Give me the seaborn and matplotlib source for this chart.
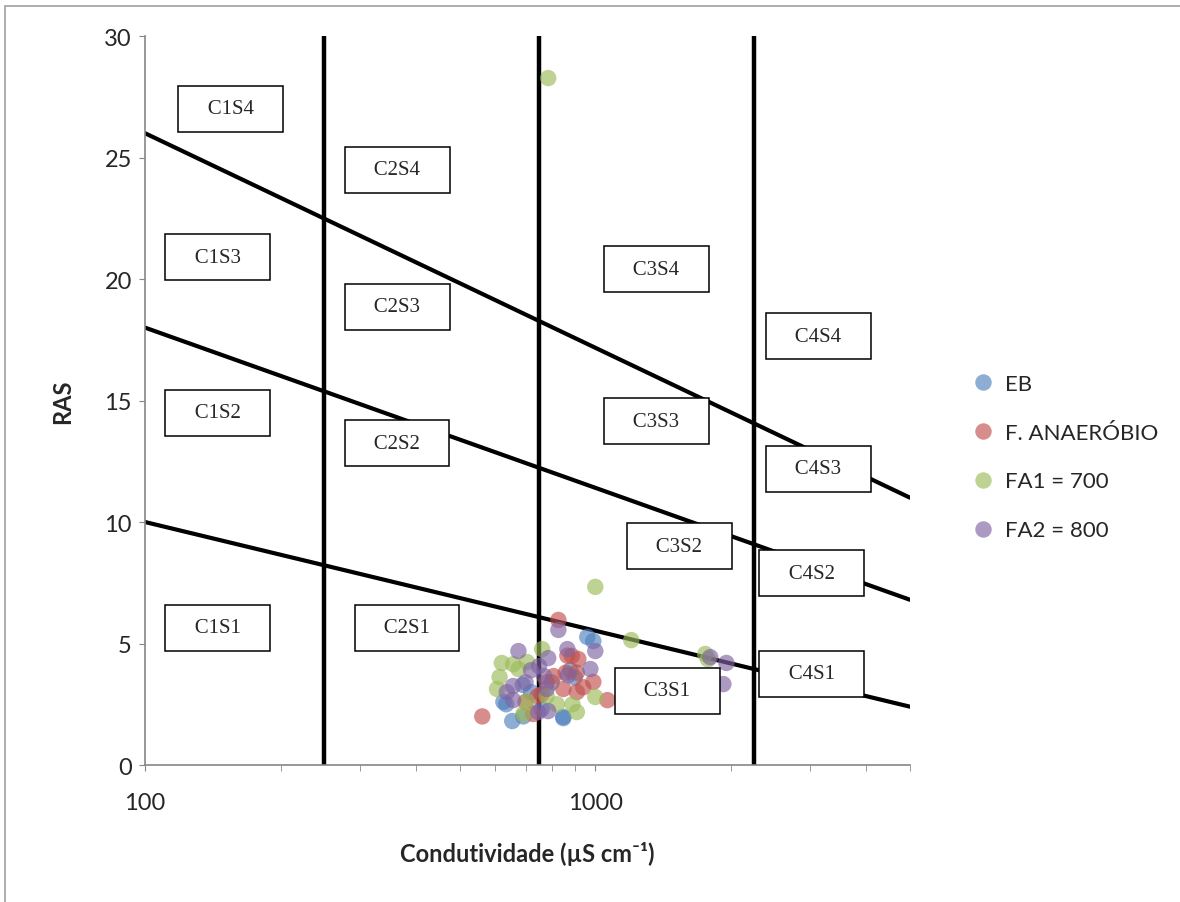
import numpy as np
import pandas as pd
import seaborn as sns
import matplotlib.pyplot as plt
from matplotlib.patches import Rectangle
from matplotlib.ticker import FixedLocator, NullFormatter

# condutividade (uS/cm) e RAS por grupo
eb_x = [960, 990, 654, 849, 634, 625, 692, 849, 720, 800, 880, 760, 900, 690]
eb_y = [5.27, 5.1, 1.81, 1.93, 2.5, 2.6, 2.0, 1.98, 3.0, 3.4, 3.9, 2.3, 3.6, 3.3]

fan_x = [828, 561, 1064, 867, 917, 860, 910, 990, 849, 910, 745, 728, 808, 887, 780, 700, 760, 940]
fan_y = [5.97, 2.0, 2.67, 4.5, 4.36, 3.8, 3.8, 3.42, 3.13, 3.0, 2.84, 2.1, 3.66, 4.49, 3.4, 2.6, 2.9, 3.2]

fa1_x = [786, 1000, 1202, 1755, 1780, 657, 613, 605, 762, 705, 692, 705, 822, 890, 910, 1000, 780, 620, 675]
fa1_y = [28.27, 7.33, 5.14, 4.57, 4.35, 4.15, 3.62, 3.13, 4.77, 4.24, 2.1, 2.6, 2.5, 2.5, 2.18, 2.8, 2.84, 4.2, 3.95]

fa2_x = [828, 1000, 675, 867, 975, 870, 786, 747, 657, 636, 657, 750, 786, 770, 780, 1800, 1955, 1925, 700, 720]
fa2_y = [5.56, 4.69, 4.69, 4.77, 3.95, 3.7, 2.22, 2.18, 2.67, 3.0, 3.25, 4.07, 4.4, 3.66, 3.13, 4.44, 4.2, 3.33, 3.4, 3.9]

groups = ["EB", "F. ANAERÓBIO", "FA1 = 700", "FA2 = 800"]

# limites do diagrama de Richards
ce_limits = [250, 750, 2250]
ras_x = [100, 5000]
ras_lines = [[26, 11], [18, 6.8], [10, 2.4]]

classes = ["C1S4", "C2S4", "C1S3", "C2S3", "C3S4", "C4S4", "C1S2", "C2S2",
           "C3S3", "C4S3", "C3S2", "C4S2", "C1S1", "C2S1", "C3S1", "C4S1"]
class_x = [155, 363, 145, 363, 1367, 3130, 145, 363, 1367, 3130, 1537, 3020, 145, 382, 1445, 3020]
class_y = [27.0, 24.5, 20.9, 18.85, 20.4, 17.65, 14.5, 13.25, 14.15, 12.2, 9.0, 7.9, 5.65, 5.65, 3.05, 3.75]

df = pd.concat([
    pd.DataFrame({"CE": eb_x, "RAS": eb_y, "grupo": groups[0]}),
    pd.DataFrame({"CE": fan_x, "RAS": fan_y, "grupo": groups[1]}),
    pd.DataFrame({"CE": fa1_x, "RAS": fa1_y, "grupo": groups[2]}),
    pd.DataFrame({"CE": fa2_x, "RAS": fa2_y, "grupo": groups[3]}),
])

sns.set_style("white")
plt.rcParams["font.family"] = ["Lato", "DejaVu Sans"]

fig = plt.figure(figsize=(11.8, 9.03), dpi=100)
ax = fig.add_axes([0.1229, 0.1517, 0.6483, 0.8073])

palette = {"EB": "#4F81BD", "F. ANAERÓBIO": "#C0504D", "FA1 = 700": "#9BBB59", "FA2 = 800": "#8064A2"}
sns.scatterplot(data=df, x="CE", y="RAS", hue="grupo", hue_order=groups, palette=palette,
                s=140, alpha=0.65, edgecolor="none", ax=ax, zorder=3)

for c in ce_limits:
    ax.axvline(c, color="black", lw=3.2, zorder=2)
for ys in ras_lines:
    ax.plot(ras_x, ys, color="black", lw=3, zorder=2)

for lab, cx, cy in zip(classes, class_x, class_y):
    ax.text(cx, cy, "   " + lab + "   ", ha="center", va="center", fontsize=15,
            family="Liberation Serif", zorder=4,
            bbox=dict(boxstyle="square,pad=0.65", fc="white", ec="black", lw=1.1))

ax.set_xscale("log")
ax.set_xlim(100, 5000)
ax.set_ylim(0, 30)
ax.set_yticks(range(0, 31, 5))
ax.xaxis.set_major_locator(FixedLocator([100, 1000]))
ax.set_xticklabels(["100", "1000"])
ax.xaxis.set_minor_locator(FixedLocator([200, 300, 400, 500, 600, 700, 800, 900, 2000, 3000, 4000, 5000]))
ax.xaxis.set_minor_formatter(NullFormatter())

for s in ["top", "right"]:
    ax.spines[s].set_visible(False)
for s in ["left", "bottom"]:
    ax.spines[s].set_color("#868686")
    ax.spines[s].set_linewidth(1.2)
ax.tick_params(axis="both", which="major", direction="out", length=4.5, color="#868686",
               labelsize=17, left=True, bottom=True)
ax.tick_params(axis="x", which="major", pad=15)
ax.tick_params(axis="y", which="major", pad=5)
ax.tick_params(axis="x", which="minor", direction="out", length=4, color="#868686", bottom=True)

ax.set_xlabel("Condutividade (µS cm⁻¹)", fontsize=17, fontweight="bold", labelpad=20)
ax.set_ylabel("RAS", fontsize=17, fontweight="bold", labelpad=22)

ax.legend(loc="center left", bbox_to_anchor=(1.04, 0.4225), frameon=False, fontsize=16,
          handletextpad=0.0, labelspacing=1.3, markerscale=1.0, title=None)

fig.add_artist(Rectangle((5 / 1180, -0.1), 1.2, 1.1 - 7 / 903, transform=fig.transFigure,
                         fill=False, ec="#A0A0A0", lw=1.2))

fig.savefig("out.png", dpi=100)
